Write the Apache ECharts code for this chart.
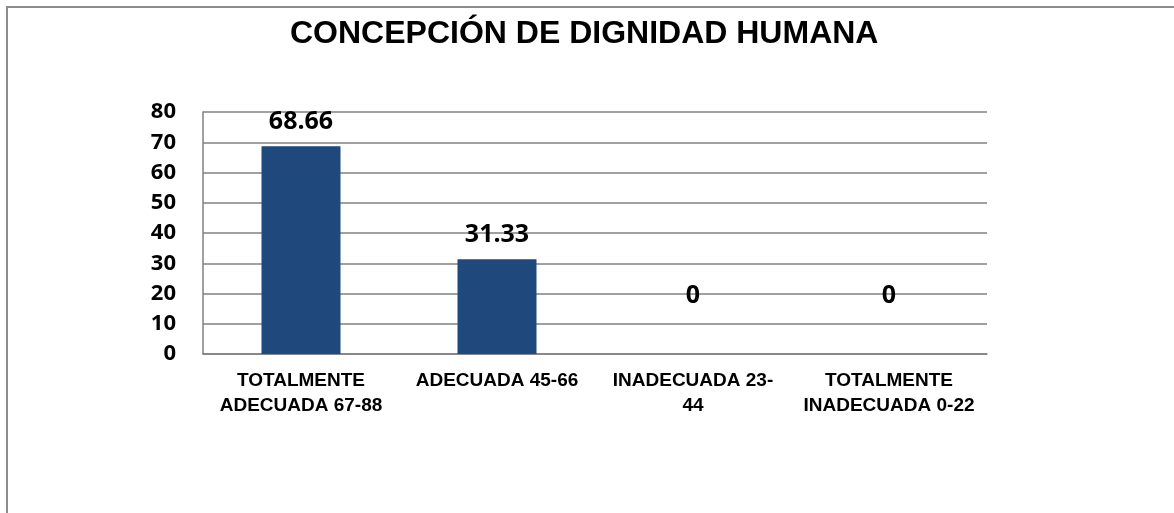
<!DOCTYPE html>
<html lang="es">
<head>
<meta charset="utf-8">
<title>Concepción de dignidad humana</title>
<script src="https://cdn.jsdelivr.net/npm/echarts@6/dist/echarts.min.js"></script>
<style>
    html, body { margin: 0; padding: 0; background: #fff; }
    #chart { width: 1174px; height: 513px; }
</style>
</head>
<body>
<div id="chart"></div>
<script>
// 資料
const titleText = 'CONCEPCIÓN DE DIGNIDAD HUMANA';
const categories = [
    'TOTALMENTE\nADECUADA 67-88',
    'ADECUADA 45-66',
    'INADECUADA 23-\n44',
    'TOTALMENTE\nINADECUADA 0-22'
];
const values = [68.66, 31.33, 0, 0];
const yTicks = [0, 10, 20, 30, 40, 50, 60, 70, 80];

document.addEventListener('DOMContentLoaded', () => {
    const myChart = echarts.init(document.getElementById('chart'));

    // 0 值的標籤在原圖中被往上移
    const barData = values.map(v => ({
        value: v,
        label: { distance: v === 0 ? 46 : 12 }
    }));

    const gridColor = '#808080';

    const option = {
        animation: false,
        title: {
            text: titleText,
            left: 285,
            top: 13,
            textStyle: {
                fontFamily: 'Liberation Sans',
                fontWeight: 'bold',
                fontSize: 32,
                color: '#000'
            }
        },
        // 外框
        graphic: [
            {
                type: 'rect',
                shape: { x: 7, y: 7, width: 1200, height: 600 },
                style: { fill: 'none', stroke: '#8c8c8c', lineWidth: 2 },
                silent: true
            }
        ],
        grid: { left: 203, right: 187, top: 112, bottom: 159 },
        xAxis: {
            type: 'category',
            data: categories,
            axisTick: { show: false },
            axisLine: { show: true, lineStyle: { color: gridColor, width: 1.5 } },
            axisLabel: {
                interval: 0,
                margin: 14,
                fontFamily: 'Liberation Sans',
                fontWeight: 'bold',
                fontSize: 19,
                lineHeight: 25,
                color: '#000'
            }
        },
        yAxis: {
            type: 'value',
            min: yTicks[0],
            max: yTicks[yTicks.length - 1],
            interval: 10,
            axisLine: { show: true, lineStyle: { color: gridColor, width: 1.5 } },
            axisTick: { show: false },
            splitLine: { lineStyle: { color: gridColor, width: 1.5 } },
            axisLabel: {
                margin: 27,
                padding: [4, 0, 0, 0],
                fontFamily: 'Open Sans',
                fontWeight: 'bold',
                fontSize: 22,
                color: '#000'
            }
        },
        series: [
            {
                type: 'bar',
                data: barData,
                barWidth: 79,
                itemStyle: { color: '#1F497D' },
                label: {
                    show: true,
                    position: 'top',
                    fontFamily: 'Open Sans',
                    fontWeight: 'bold',
                    fontSize: 25,
                    color: '#000'
                }
            }
        ]
    };

    myChart.setOption(option);
});
</script>
</body>
</html>
